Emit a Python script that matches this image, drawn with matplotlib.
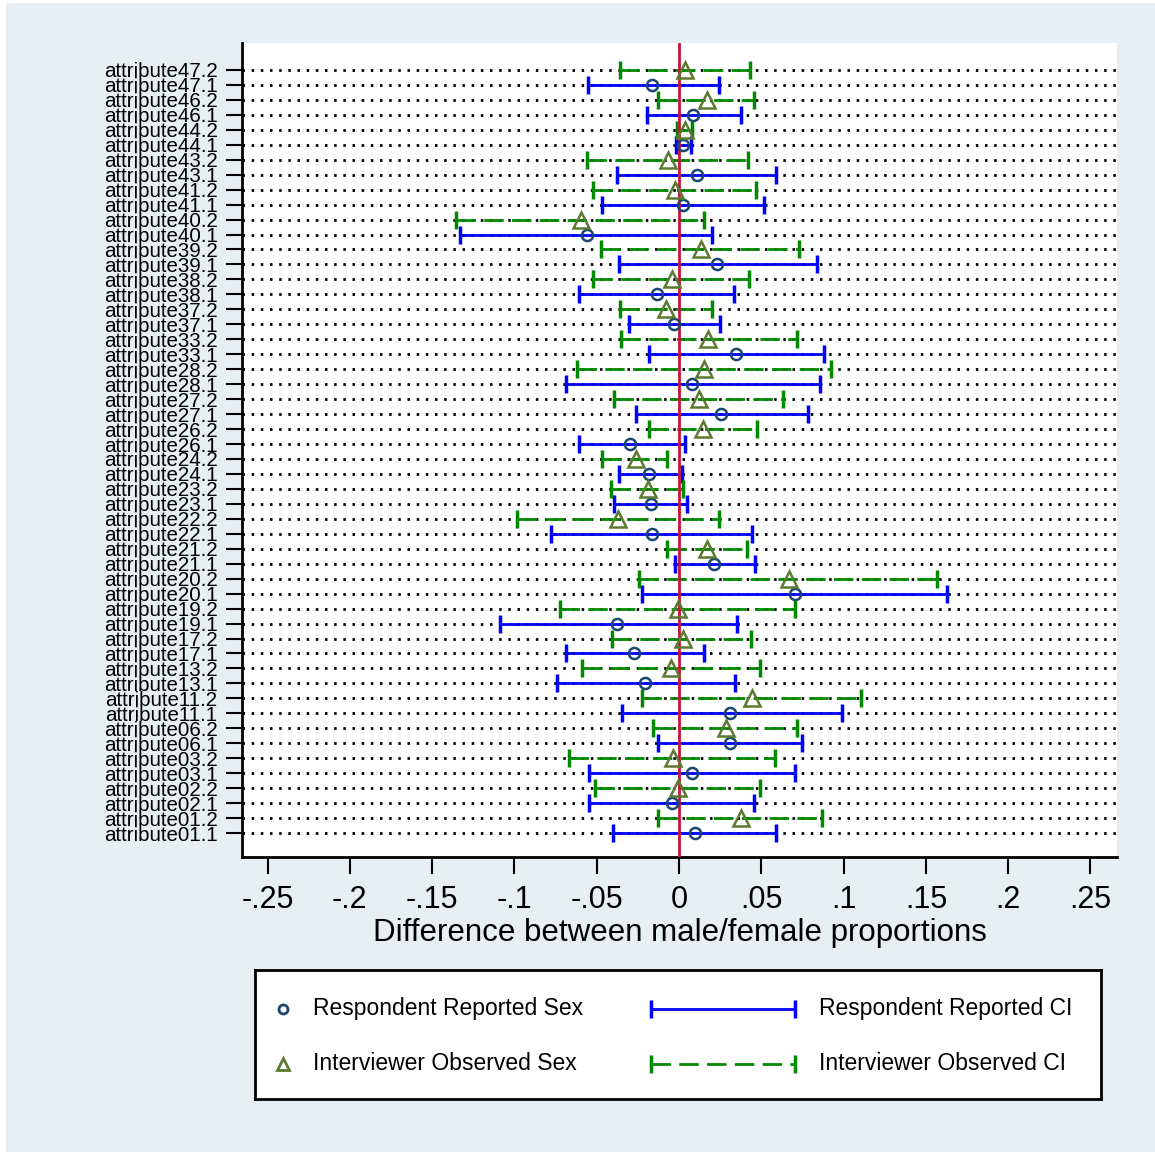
'''
male/female difference in attribute proportions
reported vs observed sex, with CIs
'''

import numpy as np
import matplotlib
matplotlib.use('Agg')
import matplotlib.pyplot as plt
from matplotlib.patches import Rectangle

# attribute numbers, top to bottom
attrs = ['47', '46', '44', '43', '41', '40', '39', '38', '37', '33', '28', '27', '26',
         '24', '23', '22', '21', '20', '19', '17', '13', '11', '06', '03', '02', '01']

# respondent reported sex (the .1 rows)
rep_est = [-0.0162, 0.0087, 0.0022, 0.0107, 0.0026, -0.0561, 0.0233, -0.0136, -0.0028,
           0.0346, 0.0077, 0.0255, -0.0298, -0.0180, -0.0170, -0.0162, 0.0211, 0.0705,
           -0.0375, -0.0272, -0.0207, 0.0312, 0.0312, 0.0081, -0.0043, 0.0097]
rep_lo = [-0.0555, -0.0196, -0.0020, -0.0375, -0.0466, -0.1330, -0.0365, -0.0608, -0.0304,
          -0.0180, -0.0689, -0.0261, -0.0608, -0.0365, -0.0395, -0.0780, -0.0027, -0.0223,
          -0.1088, -0.0688, -0.0740, -0.0346, -0.0128, -0.0544, -0.0544, -0.0398]
rep_hi = [0.0243, 0.0375, 0.0071, 0.0589, 0.0518, 0.0199, 0.0836, 0.0336, 0.0249,
          0.0883, 0.0857, 0.0782, 0.0036, 0.0016, 0.0051, 0.0446, 0.0463, 0.1631,
          0.0351, 0.0152, 0.0339, 0.0991, 0.0750, 0.0705, 0.0456, 0.0591]

# interviewer observed sex (the .2 rows)
obs_est = [0.0036, 0.0168, 0.0036, -0.0065, -0.0024, -0.0595, 0.0132, -0.0041, -0.0081,
           0.0178, 0.0152, 0.0122, 0.0148, -0.0263, -0.0190, -0.0369, 0.0172, 0.0670,
           -0.0005, 0.0024, -0.0047, 0.0445, 0.0283, -0.0038, -0.0005, 0.0377]
obs_lo = [-0.0358, -0.0130, -0.0010, -0.0557, -0.0521, -0.1357, -0.0474, -0.0521, -0.0358,
          -0.0352, -0.0622, -0.0395, -0.0182, -0.0466, -0.0413, -0.0982, -0.0075, -0.0241,
          -0.0724, -0.0410, -0.0589, -0.0223, -0.0160, -0.0668, -0.0510, -0.0126]
obs_hi = [0.0431, 0.0456, 0.0081, 0.0421, 0.0466, 0.0152, 0.0731, 0.0427, 0.0199,
          0.0715, 0.0921, 0.0634, 0.0472, -0.0075, 0.0026, 0.0243, 0.0411, 0.1570,
          0.0705, 0.0436, 0.0490, 0.1108, 0.0717, 0.0582, 0.0490, 0.0867]

xticks = [-0.25, -0.2, -0.15, -0.1, -0.05, 0, 0.05, 0.1, 0.15, 0.2, 0.25]
xticklabels = ['-.25', '-.2', '-.15', '-.1', '-.05', '0', '.05', '.1', '.15', '.2', '.25']

plt.rcParams['font.family'] = ['Liberation Sans', 'DejaVu Sans']

bg = '#e8eff2'
blue = '#0000ff'
green = '#008a00'
navy = '#1a476f'
olive = '#5a7a2f'
red = '#c8143c'

fig = plt.figure(figsize=(11.55, 11.52), dpi=100, facecolor='white')
fig.patches.append(Rectangle((6 / 1155, 0), 1 - 6 / 1155, 1 - 3 / 1152,
                             transform=fig.transFigure, facecolor=bg, edgecolor='none', zorder=-10))

ax = fig.add_axes([242 / 1155, 1 - 857 / 1152, (1117 - 242) / 1155, (857 - 43) / 1152])
ax.set_facecolor('white')

# row positions: .2 above .1 for each attribute
y_obs = np.arange(len(attrs)) * 2
y_rep = y_obs + 1
labels = []
for a in attrs:
    labels += ['attribute' + a + '.2', 'attribute' + a + '.1']
ypos = np.arange(len(labels))

# dotted grid at each row
for y in ypos:
    ax.axhline(y, color='black', lw=2, linestyle=(0, (0.9, 2.4)), zorder=1)

# CIs
ax.hlines(y_rep, rep_lo, rep_hi, colors=blue, lw=2, zorder=3)
ax.plot(rep_lo, y_rep, '|', color=blue, ms=13, mew=2.5, zorder=3)
ax.plot(rep_hi, y_rep, '|', color=blue, ms=13, mew=2.5, zorder=3)

ax.hlines(y_obs, obs_lo, obs_hi, colors=green, lw=2, linestyles=[(0, (7, 3))], zorder=3)
ax.plot(obs_lo, y_obs, '|', color=green, ms=13, mew=2.5, zorder=3)
ax.plot(obs_hi, y_obs, '|', color=green, ms=13, mew=2.5, zorder=3)

ax.axvline(0, color=red, lw=2, zorder=4)

# point estimates
ax.plot(rep_est, y_rep, 'o', ms=8, mfc='none', mec=navy, mew=1.8, zorder=5)
ax.plot(obs_est, y_obs, '^', ms=11, mfc='none', mec=olive, mew=1.8, zorder=5)

ax.set_xlim(-0.2655, 0.2661)
ax.set_ylim(52.6, -1.8)

ax.set_yticks(ypos)
ax.set_yticklabels(labels, fontsize=14.8)
ax.set_xticks(xticks)
ax.set_xticklabels(xticklabels, fontsize=22)
ax.tick_params(axis='y', length=11.5, width=1.5, pad=6)
ax.tick_params(axis='x', length=12, width=1.5, pad=8)
ax.set_xlabel('Difference between male/female proportions', fontsize=22.5, labelpad=2)

for s in ['top', 'right']:
    ax.spines[s].set_visible(False)
for s in ['left', 'bottom']:
    ax.spines[s].set_linewidth(2)

# legend box, drawn by hand in its own axes (pixel units)
lx0, ly0, lx1, ly1 = 255, 970, 1101, 1099
lg = fig.add_axes([lx0 / 1155, 1 - ly1 / 1152, (lx1 - lx0) / 1155, (ly1 - ly0) / 1152])
lg.set_xlim(0, lx1 - lx0)
lg.set_ylim(ly1 - ly0, 0)
lg.set_xticks([])
lg.set_yticks([])
for s in lg.spines.values():
    s.set_linewidth(2)

r1, r2 = 39, 94
lg.plot([28], [r1], 'o', ms=6.5, mfc='none', mec=navy, mew=2)
lg.plot([28], [r2], '^', ms=9, mfc='none', mec=olive, mew=2)
lg.text(58, r1, 'Respondent Reported Sex', fontsize=16.5, va='center')
lg.text(58, r2, 'Interviewer Observed Sex', fontsize=16.5, va='center')

lg.plot([396, 540], [r1, r1], color=blue, lw=2)
lg.plot([396, 540], [r1, r1], '|', color=blue, ms=13, mew=2.5)
lg.plot([396, 540], [r2, r2], color=green, lw=2, linestyle=(0, (7, 3)))
lg.plot([396, 540], [r2, r2], '|', color=green, ms=13, mew=2.5)
lg.text(564, r1, 'Respondent Reported CI', fontsize=16.5, va='center')
lg.text(564, r2, 'Interviewer Observed CI', fontsize=16.5, va='center')

plt.savefig('out.png', dpi=100, facecolor=fig.get_facecolor())
plt.close()
